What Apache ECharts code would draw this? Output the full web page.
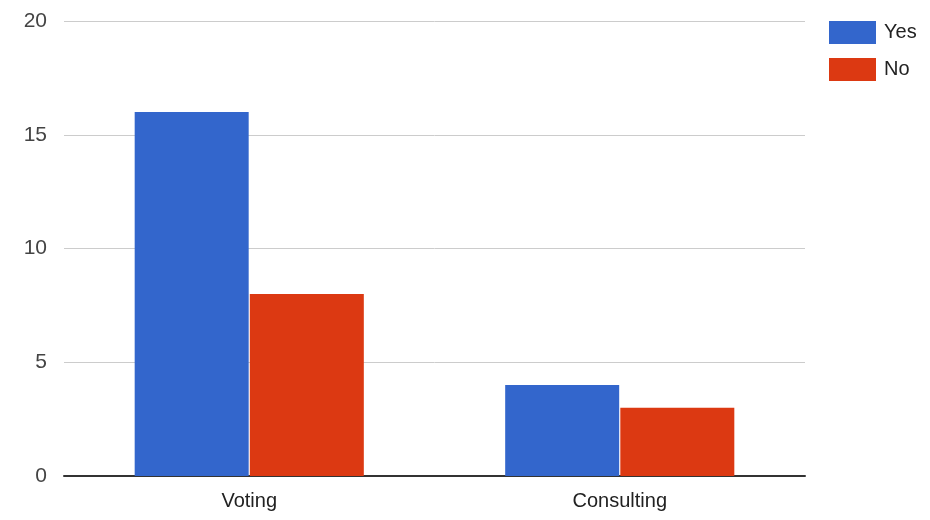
<!DOCTYPE html>
<html>
<head>
<meta charset="utf-8">
<script src="https://cdn.jsdelivr.net/npm/echarts@6/dist/echarts.min.js"></script>
<style>
    html, body { margin: 0; padding: 0; background: #fff; }
    #chart { width: 930px; height: 520px; }
</style>
</head>
<body>
<div id="chart"></div>
<script>
    var categories = ['Voting', 'Consulting'];
    var yesValues = [16, 4];
    var noValues = [8, 3];
    var yTicks = [0, 5, 10, 15, 20];

    var chart = echarts.init(document.getElementById('chart'));

    var option = {
        animation: false,
        textStyle: { fontFamily: 'Liberation Sans, Arial, sans-serif' },
        grid: { left: 64, right: 125, top: 21, bottom: 44, containLabel: false },
        legend: {
            orient: 'vertical',
            left: 824,
            top: 16,
            itemWidth: 47,
            itemHeight: 23,
            itemGap: 14,
            icon: 'rect',
            textStyle: { fontSize: 20, color: '#222', padding: [0, 0, 0, 3] },
            data: ['Yes', 'No']
        },
        xAxis: {
            type: 'category',
            data: categories,
            axisLine: { lineStyle: { color: '#333', width: 2 } },
            axisTick: { show: false },
            axisLabel: { fontSize: 20, color: '#222', margin: 15 }
        },
        yAxis: {
            type: 'value',
            min: yTicks[0],
            max: yTicks[yTicks.length - 1],
            interval: 5,
            axisLine: { show: false },
            axisTick: { show: false },
            axisLabel: { fontSize: 21, color: '#444', margin: 17 },
            splitLine: { lineStyle: { color: '#cccccc', width: 1 } }
        },
        series: [
            {
                name: 'Yes',
                type: 'bar',
                data: yesValues,
                barWidth: 114,
                barGap: '1%',
                itemStyle: { color: '#3366cc' }
            },
            {
                name: 'No',
                type: 'bar',
                data: noValues,
                barWidth: 114,
                itemStyle: { color: '#dc3912' }
            }
        ]
    };

    chart.setOption(option);
</script>
</body>
</html>
